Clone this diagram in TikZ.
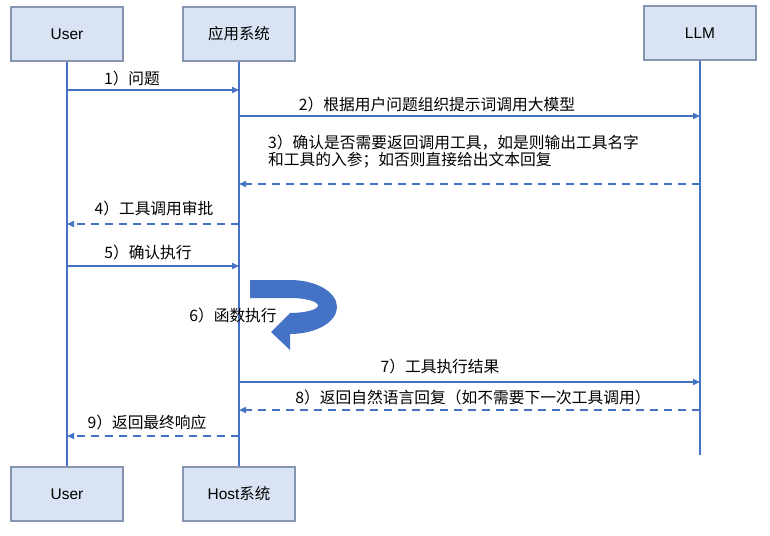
\documentclass[tikz,border=0pt]{standalone}
\usepackage{fontspec}
\setmainfont{Liberation Sans}
\newfontfamily\cjk{Noto Sans CJK SC}
\usetikzlibrary{arrows.meta}
\definecolor{lineblue}{HTML}{4472C4}
\definecolor{boxfill}{HTML}{DAE3F3}
\definecolor{boxborder}{HTML}{8395B0}
\begin{document}
\begin{tikzpicture}[x=1bp,y=-1bp,
  actor/.style={draw=boxborder, fill=boxfill, line width=1.2bp, minimum width=112bp, minimum height=54bp, inner sep=0pt, font=\fontsize{15.5}{18}\selectfont, text=black},
  life/.style={draw=lineblue, line width=2bp},
  msg/.style={draw=lineblue, line width=1.6bp, -{Triangle[length=7bp,width=6bp]}},
  ret/.style={msg, dash pattern=on 8bp off 6bp},
  lbl/.style={font=\cjk\fontsize{15.8}{17}\selectfont, text=black, inner sep=0pt}]
\useasboundingbox (0,0) rectangle (770,536);

% actors
\node[actor] (user) at (67,34) {User};
\node[actor] (app) at (239,34) {\cjk 应用系统};
\node[actor] (llm) at (700,33) {LLM};
\node[actor] (user2) at (67,494) {User};
\node[actor] (host) at (239,494) {Host{\cjk 系统}};
\coordinate (llmend) at (700,455);

% lifelines
\draw[life] (user) -- (user2);
\draw[life] (app) -- (host);
\draw[life] (llm) -- (llmend);

% message end points
\coordinate (u1) at (67,90);   \coordinate (a1) at (239,90);
\coordinate (a2) at (239,116); \coordinate (l2) at (700,116);
\coordinate (l3) at (700,184); \coordinate (a3) at (239,184);
\coordinate (a4) at (239,224); \coordinate (u4) at (67,224);
\coordinate (u5) at (67,266);  \coordinate (a5) at (239,266);
\coordinate (a7) at (239,382); \coordinate (l7) at (700,382);
\coordinate (l8) at (700,410); \coordinate (a8) at (239,410);
\coordinate (a9) at (239,436); \coordinate (u9) at (67,436);

\draw[msg] (u1) -- (a1);
\draw[msg] (a2) -- (l2);
\draw[ret] (l3) -- (a3);
\draw[ret] (a4) -- (u4);
\draw[msg] (u5) -- (a5);
\draw[msg] (a7) -- (l7);
\draw[ret] (l8) -- (a8);
\draw[ret] (a9) -- (u9);

% u-turn arrow (step 6)
\fill[lineblue] (250,280) -- (290,280)
  .. controls (316,280) and (337,292) .. (337,307)
  .. controls (337,322) and (316,334) .. (290,334)
  -- (290,350) -- (271,332) -- (290,313)
  .. controls (305.5,313) and (318,309.5) .. (318,305.5)
  .. controls (318,301.5) and (305.5,298) .. (290,298)
  -- (250,298) -- cycle;

% labels
\node[lbl] (t1) at (132,79) {1）问题};
\node[lbl] (t2) at (437,105) {2）根据用户问题组织提示词调用大模型};
\node[lbl, anchor=west] (t3a) at (268,143) {3）确认是否需要返回调用工具，如是则输出工具名字};
\node[lbl, anchor=west] (t3b) at (268,160) {和工具的入参；如否则直接给出文本回复};
\node[lbl] (t4) at (154,209) {4）工具调用审批};
\node[lbl] (t5) at (148,253) {5）确认执行};
\node[lbl] (t6) at (233,316) {6）函数执行};
\node[lbl] (t7) at (440,367) {7）工具执行结果};
\node[lbl] (t8) at (473,398) {8）返回自然语言回复（如不需要下一次工具调用）};
\node[lbl] (t9) at (147,423) {9）返回最终响应};
\end{tikzpicture}
\end{document}
